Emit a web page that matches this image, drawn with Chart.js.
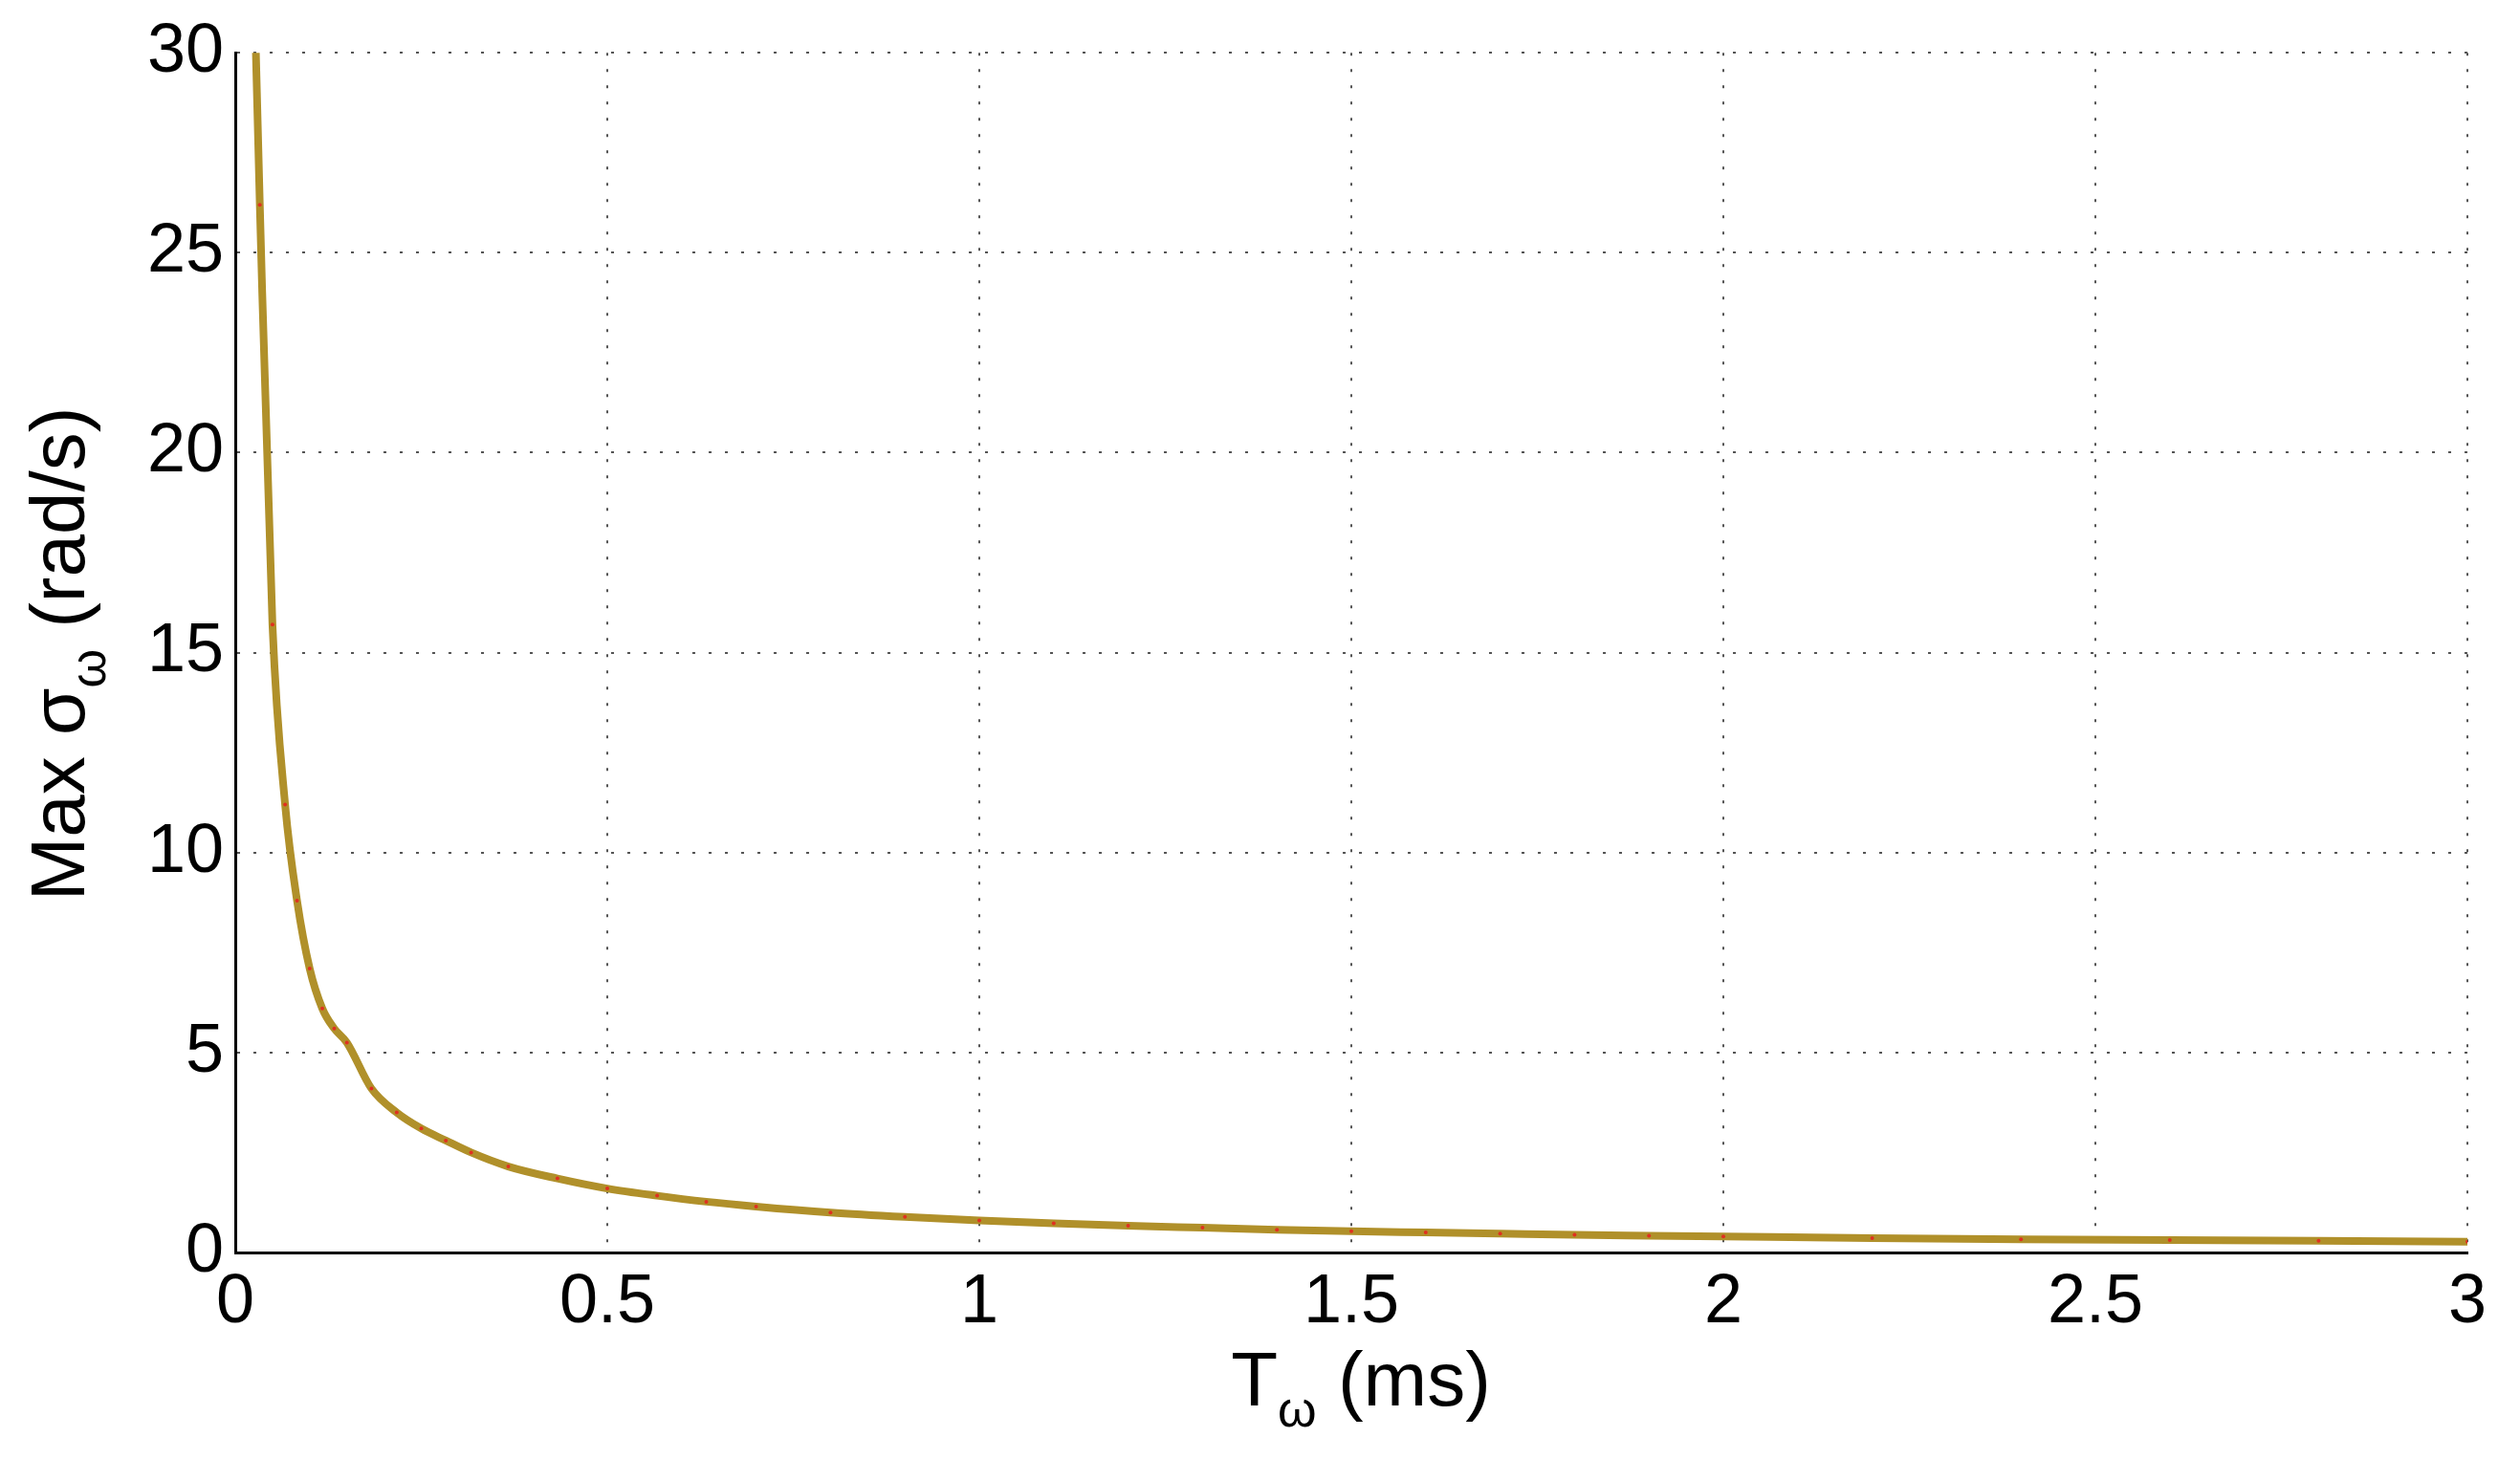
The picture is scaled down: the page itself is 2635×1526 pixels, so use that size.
<!DOCTYPE html>
<html>
<head>
<meta charset="UTF-8">
<script src="https://cdn.jsdelivr.net/npm/chart.js"></script>
<style>
  body { margin: 0; background: #fff; }
  #wrap { width: 2635px; height: 1526px; }
</style>
</head>
<body>
<div id="wrap"><canvas id="c"></canvas></div>
<script>
// T (ms) and max sigma (rad/s)
const tValues = [0.025, 0.033, 0.05, 0.067, 0.083, 0.1, 0.117, 0.133, 0.15, 0.183, 0.217, 0.25, 0.283, 0.317, 0.367, 0.433, 0.5, 0.567, 0.633, 0.7, 0.8, 0.9, 1.0, 1.1, 1.2, 1.3, 1.4, 1.5, 1.6, 1.7, 1.8, 1.9, 2.0, 2.2, 2.4, 2.6, 2.8, 3.0];
const sigmaValues = [32, 26.2, 15.7, 11.2, 8.8, 7.1, 6.1, 5.6, 5.25, 4.1, 3.5, 3.1, 2.8, 2.5, 2.15, 1.85, 1.6, 1.42, 1.27, 1.15, 1.0, 0.89, 0.8, 0.73, 0.67, 0.62, 0.57, 0.53, 0.5, 0.47, 0.44, 0.42, 0.4, 0.36, 0.33, 0.31, 0.29, 0.27];
const xTicks = [0, 0.5, 1, 1.5, 2, 2.5, 3];
const yTicks = [0, 5, 10, 15, 20, 25, 30];

const points = tValues.map((t, i) => ({ x: t, y: sigmaValues[i] }));
const FONT = '"Liberation Sans", Arial, sans-serif';

// axis titles with subscript omega
const titles = {
  id: 'titles',
  afterDraw(chart) {
    const ctx = chart.ctx;
    const big = '80px ' + FONT, small = '52px ' + FONT;
    function sub(parts) {
      let w = 0;
      parts.forEach(p => { ctx.font = p[1] ? small : big; w += ctx.measureText(p[0]).width; });
      let x = -w / 2;
      parts.forEach(p => {
        ctx.font = p[1] ? small : big;
        ctx.fillText(p[0], x, p[1] ? 22 : 0);
        x += ctx.measureText(p[0]).width;
      });
    }
    ctx.save();
    ctx.fillStyle = '#000';
    ctx.translate(1423, 1470);
    sub([['T', 0], ['ω', 1], [' (ms)', 0]]);
    ctx.restore();
    ctx.save();
    ctx.fillStyle = '#000';
    ctx.translate(88, 684);
    ctx.rotate(-Math.PI / 2);
    sub([['Max σ', 0], ['ω', 1], [' (rad/s)', 0]]);
    ctx.restore();
  }
};

new Chart(document.getElementById('c'), {
  type: 'line',
  data: {
    datasets: [{
      data: points,
      borderColor: '#B0902A',
      borderWidth: 8,
      pointRadius: 2,
      pointBackgroundColor: '#e03020',
      pointBorderWidth: 0,
      cubicInterpolationMode: 'monotone'
    }]
  },
  options: {
    responsive: true,
    maintainAspectRatio: false,
    animation: false,
    layout: { padding: { top: 50, right: 55 } },
    plugins: { legend: { display: false }, tooltip: { enabled: false } },
    scales: {
      x: {
        type: 'linear', min: 0, max: 3,
        afterFit: s => { s.height = 216; },
        afterBuildTicks: s => { s.ticks = xTicks.map(v => ({ value: v })); },
        grid: { color: '#555', lineWidth: 2, drawTicks: false },
        border: { display: true, color: '#000', width: 3, dash: [3, 14] },
        ticks: { color: '#000', font: { size: 72, family: FONT }, padding: 10, callback: v => String(v) }
      },
      y: {
        min: 0, max: 30,
        afterFit: s => { s.width = 246; },
        afterBuildTicks: s => { s.ticks = yTicks.map(v => ({ value: v })); },
        grid: { color: '#555', lineWidth: 2, drawTicks: false },
        border: { display: true, color: '#000', width: 3, dash: [3, 14] },
        ticks: { color: '#000', font: { size: 72, family: FONT }, padding: 12 }
      }
    }
  },
  plugins: [titles]
});
</script>
</body>
</html>
